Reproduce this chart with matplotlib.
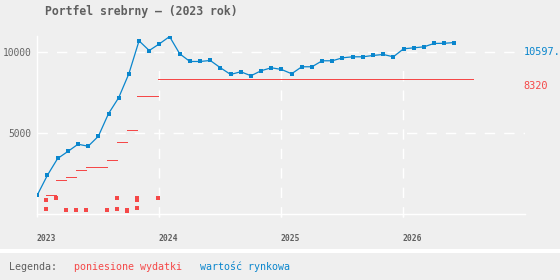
import matplotlib
matplotlib.use('Agg')
import matplotlib.pyplot as plt
from matplotlib.patches import Rectangle

plt.rcParams['lines.scale_dashes'] = False
MONO = ['DejaVu Sans Mono']

# ---------------- data ----------------
start_year = 2023
year_ticks = [2023, 2024, 2025, 2026]
year_labels = ['2023', '2024', '2025', '2026']
y_ticks = [5000, 10000]
y_tick_labels = ['5000', '10000']

# market value, monthly from Jan 2023 (month index 0)
market_value = [1190, 2417, 3444, 3875, 4323, 4200, 4815, 6211, 7195, 8671,
                10701, 10104, 10516, 10965, 9900, 9428, 9428, 9490, 9040, 8628,
                8794, 8548, 8856, 9040, 8936, 8671, 9102, 9102, 9471, 9471,
                9655, 9717, 9717, 9799, 9860, 9717, 10209, 10270, 10332, 10540,
                10550, 10597]

# cumulative expenses (step line)
purchase_months = [1, 2, 3, 4, 5, 7, 8, 9, 10, 12]
cumulative_cost = [1187, 2110, 2294, 2706, 2909, 3321, 4490, 5185, 7318, 8320]
cost_end_month = 43

# single purchases (dots)
dot_months = [1, 1, 2, 3, 4, 5, 7, 8, 8, 9, 9, 10, 10, 10, 12]
dot_values = [861, 308, 984, 246, 246, 246, 246, 984, 308, 280, 200, 985, 900, 369, 984]

last_value_label = '10597.'
last_cost_label = '8320'

title = 'Portfel srebrny – (2023 rok)'
legend_title = 'Legenda:'
legend_cost = 'poniesione wydatki'
legend_value = 'wartość rynkowa'

# ---------------- style ----------------
BG = '#efefef'
BLUE = '#0a86cd'
RED = '#f54848'
GRAY = '#5f5f5f'

W, H = 560, 280
fig = plt.figure(figsize=(W / 100, H / 100), dpi=100, facecolor=BG)

ax_l, ax_r, ax_t, ax_b = 36.7, 525, 36, 214.3
ax = fig.add_axes([ax_l / W, 1 - ax_b / H, (ax_r - ax_l) / W, (ax_b - ax_t) / H])
ax.set_facecolor(BG)
ax.set_xlim(2023, 2027)
ax.set_ylim(0, 11000)

def mx(m, off=0.0):
    return start_year + (m + off) / 12.0

# grid
for yv in y_ticks:
    ax.axhline(yv, color='white', lw=1.0, dashes=(7.5, 6.5), zorder=1)
for xv in year_ticks[1:]:
    ax.axvline(xv, ymin=-0.015, ymax=0.85, color='white', lw=1.0,
               dashes=(7.5, 6.5), zorder=1, clip_on=False)

# spines
for s in ['top', 'right']:
    ax.spines[s].set_visible(False)
ax.spines['left'].set_color('white')
ax.spines['bottom'].set_color('white')
ax.spines['left'].set_linewidth(1.0)
ax.spines['bottom'].set_linewidth(1.0)

ax.set_yticks(y_ticks)
ax.set_yticklabels(y_tick_labels, family=MONO, fontsize=6.9, color='#666666')
ax.tick_params(axis='y', length=0, pad=4)
ax.set_xticks(year_ticks)
ax.set_xticklabels(year_labels, family=MONO, fontsize=5.8, color=GRAY,
                   fontweight='bold', ha='left')
ax.tick_params(axis='x', length=2, width=1, color='white', pad=12.5)

# red cumulative steps
RED_OFF = -0.12
for i, m in enumerate(purchase_months):
    end = purchase_months[i + 1] if i + 1 < len(purchase_months) else cost_end_month
    ax.hlines(cumulative_cost[i], mx(m, RED_OFF), mx(end, RED_OFF),
              color=RED, lw=0.5, zorder=3, antialiased=False)

# red purchase dots
ax.plot([mx(m, RED_OFF) for m in dot_months], dot_values, ls='none',
        marker='s', ms=2.3, color=RED, mew=0, zorder=3)

# blue market value
bx = [mx(m, 0.06) for m in range(len(market_value))]
ax.plot(bx, market_value, color=BLUE, lw=0.9, zorder=4)
ax.plot(bx, market_value, ls='none', marker='s', ms=2.4, mew=0, color=BLUE, zorder=5)

# right-side labels
ax.annotate(last_value_label, xy=(1.0, market_value[-1]), xycoords=('axes fraction', 'data'),
            xytext=(-1.5, -9.5), textcoords='offset pixels', family=MONO, fontsize=7.4,
            color=BLUE, ha='left', va='center', annotation_clip=False)
ax.annotate(last_cost_label, xy=(1.0, cumulative_cost[-1]), xycoords=('axes fraction', 'data'),
            xytext=(-1.5, -6.5), textcoords='offset pixels', family=MONO, fontsize=7.4,
            color=RED, ha='left', va='center', annotation_clip=False)

# title
fig.text(45 / W, 1 - 12 / H, title, family=MONO, fontsize=8.3, fontweight='bold',
         color=GRAY, ha='left', va='center')

# separator band & legend
fig.add_artist(Rectangle((0, 1 - 253 / H), 1, 4 / H, transform=fig.transFigure,
                         facecolor='white', edgecolor='none'))
fig.text(9 / W, 1 - 267 / H, legend_title, family=MONO, fontsize=7.2, color=GRAY,
         ha='left', va='center')
fig.text(74 / W, 1 - 267 / H, legend_cost, family=MONO, fontsize=7.2, color=RED,
         ha='left', va='center')
fig.text(200 / W, 1 - 267 / H, legend_value, family=MONO, fontsize=7.2, color=BLUE,
         ha='left', va='center')

fig.savefig('out.png', dpi=100, facecolor=BG)
